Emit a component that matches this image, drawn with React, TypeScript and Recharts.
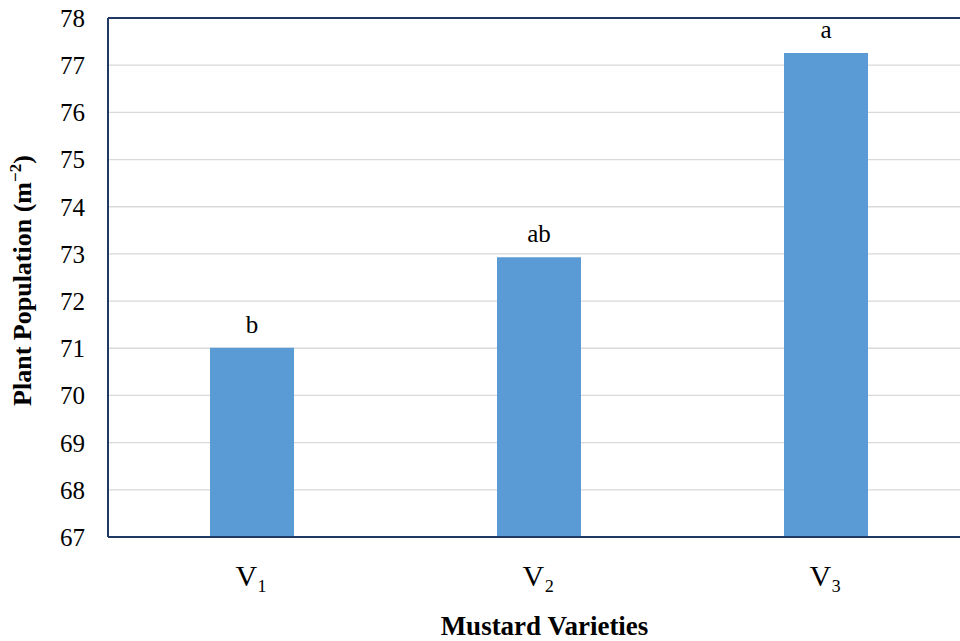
import React from "react";
import { BarChart, Bar, XAxis, YAxis, CartesianGrid, ReferenceLine, LabelList } from "recharts";

const categories = ["V\u2081", "V\u2082", "V\u2083"];
const plantPopulation = [71.01, 72.93, 77.26];
const significanceLetters = ["b", "ab", "a"];
const yTicks = [67, 68, 69, 70, 71, 72, 73, 74, 75, 76, 77, 78];

const data = categories.map((c, i) => ({ name: c, value: plantPopulation[i], letter: significanceLetters[i] }));

const AXIS = "#203864";
const SERIF = "Liberation Serif";

const YTitle = (props: any) => {
  const vb = props.viewBox || { x: 0, y: 18, width: 108, height: 519 };
  const cx = vb.x + 31;
  const cy = vb.y + vb.height / 2 + 3;
  return (
    <text
      x={cx}
      y={cy}
      transform={`rotate(-90, ${cx}, ${cy})`}
      textAnchor="middle"
      style={{ fontFamily: SERIF, fontWeight: "bold", fontSize: 26 }}
      fill="#000"
    >
      <tspan>Plant Population (m</tspan>
      <tspan dy={-10} fontSize={17}>{"\u2212"}2</tspan>
      <tspan dy={10}>)</tspan>
    </text>
  );
};

const XTitle = (props: any) => {
  const vb = props.viewBox || { x: 108, y: 537, width: 861, height: 60 };
  return (
    <text
      x={vb.x + vb.width / 2 + 6}
      y={vb.y + 98}
      textAnchor="middle"
      style={{ fontFamily: SERIF, fontWeight: "bold", fontSize: 27 }}
      fill="#000"
    >
      Mustard Varieties
    </text>
  );
};

export default function App() {
  return (
    <div style={{ position: "fixed", left: 0, top: 0, width: 960, height: 641, overflow: "hidden", background: "#fff", fontFamily: SERIF }}>
      <BarChart
        width={1000}
        height={641}
        data={data}
        margin={{ top: 18, right: 31, bottom: 44, left: 0 }}
      >
        <CartesianGrid vertical={false} stroke="#D9D9D9" strokeWidth={1.3} />
        <XAxis
          dataKey="name"
          height={60}
          stroke={AXIS}
          strokeWidth={2}
          tickLine={false}
          tickSize={0}
          tickMargin={28}
          tick={{ fill: "#000", fontSize: 30, style: { fontFamily: SERIF } }}
          label={<XTitle />}
        />
        <YAxis
          width={108}
          domain={[67, 78]}
          ticks={yTicks}
          interval={0}
          allowDataOverflow
          stroke={AXIS}
          strokeWidth={2}
          tickLine={false}
          tickSize={0}
          tickMargin={23}
          tick={{ fill: "#000", fontSize: 25, style: { fontFamily: SERIF } }}
          label={<YTitle />}
        />
        <ReferenceLine y={78} stroke={AXIS} strokeWidth={2} />
        <Bar dataKey="value" fill="#5B9BD5" barSize={84} isAnimationActive={false}>
          <LabelList dataKey="letter" position="top" offset={15} fill="#000" fontSize={25} style={{ fontFamily: SERIF }} />
        </Bar>
      </BarChart>
    </div>
  );
}
